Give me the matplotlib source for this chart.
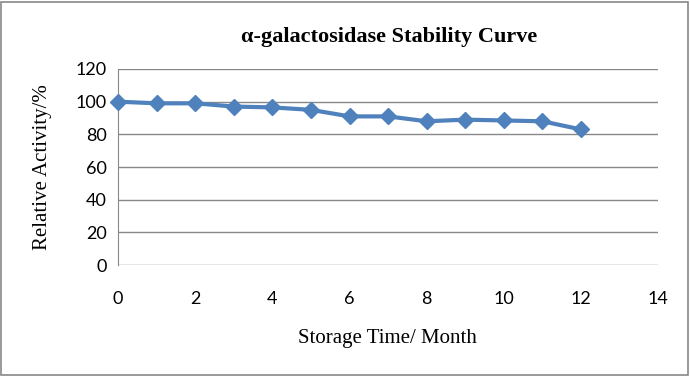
import matplotlib
matplotlib.use("Agg")
import matplotlib.pyplot as plt
from matplotlib.patches import Rectangle

months = [0, 1, 2, 3, 4, 5, 6, 7, 8, 9, 10, 11, 12]
activity = [100, 99, 99, 97, 96.5, 95, 91, 91, 88, 89, 88.5, 88, 83]
xticks = [0, 2, 4, 6, 8, 10, 12, 14]
yticks = [0, 20, 40, 60, 80, 100, 120]

fig = plt.figure(figsize=(6.9, 3.76), dpi=100)
fig.patches.append(Rectangle((0.002, 0.003), 0.995, 0.993, transform=fig.transFigure,
                             fill=False, edgecolor='#888888', linewidth=1.2))
ax = fig.add_axes([0.171, 0.295, 0.783, 0.5215])
ax.plot(months, activity, color='#4F81BD', linewidth=3, marker='D', markersize=8,
        markeredgecolor='#4F81BD', markerfacecolor='#4F81BD', clip_on=False, zorder=3)
ax.set_xlim(0, 14)
ax.set_ylim(0, 120)
ax.set_xticks(xticks)
ax.set_yticks(yticks)
ax.grid(axis='y', color='#888888', linewidth=1)
for s in ['top', 'right', 'bottom']:
    ax.spines[s].set_visible(False)
ax.spines['left'].set_color('#888888')
ax.tick_params(axis='both', length=0, labelsize=13, labelcolor='black')
ax.tick_params(axis='x', pad=19)
ax.tick_params(axis='y', pad=8)
for lab in ax.get_xticklabels() + ax.get_yticklabels():
    lab.set_family('Lato')

fig.text(0.564, 0.902, 'α-galactosidase Stability Curve', ha='center', va='center',
         fontsize=16, fontweight='bold', family='Liberation Serif')
fig.text(0.061, 0.556, 'Relative Activity/%', rotation=90, ha='center', va='center',
         fontsize=15, family='Liberation Serif')
fig.text(0.561, 0.101, 'Storage Time/ Month', ha='center', va='center',
         fontsize=15, family='Liberation Serif')

fig.savefig('out.png', dpi=100)
